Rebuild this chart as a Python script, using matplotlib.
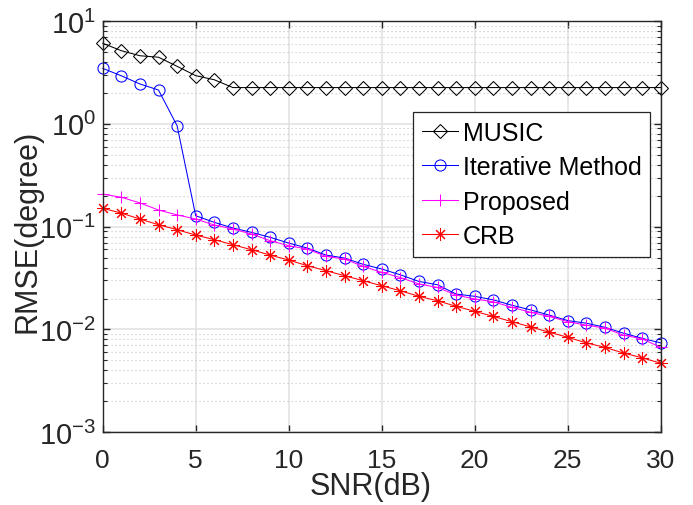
import numpy as np
import matplotlib
matplotlib.use("Agg")
import matplotlib.pyplot as plt
from matplotlib.ticker import FixedLocator, FuncFormatter, LogLocator, NullFormatter

plt.rcParams['font.family'] = ['Liberation Sans', 'DejaVu Sans']
plt.rcParams['mathtext.fontset'] = 'custom'
plt.rcParams['mathtext.rm'] = 'Liberation Sans'
plt.rcParams['mathtext.it'] = 'Liberation Sans'
plt.rcParams['mathtext.default'] = 'regular'

snr = list(range(0, 31))
music = [6.07, 5.14, 4.59, 4.44, 3.62, 2.94, 2.68, 2.25, 2.25, 2.25, 2.25,
         2.25, 2.25, 2.25, 2.25, 2.25, 2.25, 2.25, 2.25, 2.25, 2.25, 2.25,
         2.25, 2.25, 2.25, 2.25, 2.25, 2.25, 2.25, 2.25, 2.25]
iterative = [3.46, 2.93, 2.44, 2.13, 0.957, 0.1276, 0.110, 0.0969, 0.0880,
             0.0787, 0.0692, 0.0619, 0.0529, 0.0495, 0.0430, 0.0387, 0.0340,
             0.0293, 0.0272, 0.0221, 0.0210, 0.0194, 0.0172, 0.0155, 0.0138,
             0.0122, 0.0115, 0.0105, 0.0092, 0.0082, 0.0074]
proposed = [0.207, 0.193, 0.170, 0.145, 0.130, 0.1186, 0.1037, 0.0948, 0.0848,
            0.0730, 0.0652, 0.0605, 0.0514, 0.0484, 0.0411, 0.0359, 0.0320,
            0.0277, 0.0256, 0.0216, 0.0198, 0.0186, 0.0164, 0.0147, 0.0134,
            0.0119, 0.0110, 0.0103, 0.0088, 0.0081, 0.0067]
crb = [0.1507, 0.1355, 0.1185, 0.1044, 0.0933, 0.0828, 0.0746, 0.0667, 0.0596,
       0.0529, 0.0473, 0.0417, 0.0373, 0.0333, 0.0298, 0.0266, 0.0238, 0.0210,
       0.0190, 0.0168, 0.0150, 0.0134, 0.0119, 0.0106, 0.0094, 0.0084, 0.0074,
       0.0067, 0.0059, 0.0053, 0.0047]
labels = ['MUSIC', 'Iterative Method', 'Proposed', 'CRB']
xticks = [0, 5, 10, 15, 20, 25, 30]
yticks = [1e-3, 1e-2, 1e-1, 1e0, 1e1]

fig = plt.figure(figsize=(6.93, 5.06), dpi=100)
ax = fig.add_axes([0.1482, 0.1437, 0.8052, 0.8129])

lw = 0.75
mew = 0.75
ax.plot(snr, music, color='k', lw=lw, marker='D', ms=7.5, mfc='none', mew=mew,
        label=labels[0], clip_on=False)
ax.plot(snr, iterative, color='#0000ff', lw=lw, marker='o', ms=8, mfc='none', mew=mew,
        label=labels[1], clip_on=False)
ax.plot(snr, proposed, color='#ff00ff', lw=lw, marker='+', ms=9, mew=mew,
        label=labels[2], clip_on=False)
ax.plot(snr, crb, color='#ff0000', lw=lw, marker=(8, 2, 0), ms=9, mew=mew,
        label=labels[3], clip_on=False)

ax.set_yscale('log')
ax.set_xlim(0, 30)
ax.set_ylim(1e-3, 1e1)
ax.xaxis.set_major_locator(FixedLocator(xticks))
ax.yaxis.set_major_locator(FixedLocator(yticks))
ax.yaxis.set_minor_locator(LogLocator(base=10, subs=np.arange(2, 10), numticks=20))
ax.yaxis.set_minor_formatter(NullFormatter())
ax.yaxis.set_major_formatter(FuncFormatter(lambda v, p: r'$10^{%d}$' % int(round(np.log10(v)))))

ax.grid(True, which='major', color='#e0e0e0', lw=1.1, ls='-')
ax.grid(True, which='minor', axis='y', color='#c4c4c4', lw=0.8, ls=(0, (1, 2.6)))
ax.set_axisbelow(True)

for s in ax.spines.values():
    s.set_color('#262626')
    s.set_linewidth(1.0)
ax.tick_params(which='both', direction='in', top=True, right=True, colors='#262626')
ax.tick_params(which='major', length=5, width=1.0)
ax.tick_params(which='minor', length=3, width=0.8)
ax.tick_params(axis='x', labelsize=19, pad=11, labelcolor='#262626')
ax.tick_params(axis='y', labelsize=21, pad=5, labelcolor='#262626')
for t in ax.get_yticklabels():
    t.set_verticalalignment('center_baseline')

ax.set_xlabel('SNR(dB)', fontsize=22, color='#262626')
ax.xaxis.set_label_coords(0.481, -0.13)
ax.xaxis.label.set_verticalalignment('center')
ax.set_ylabel('RMSE(degree)', fontsize=22, color='#262626')
ax.yaxis.set_label_coords(-0.135, 0.49)
ax.yaxis.label.set_verticalalignment('center')
ax.yaxis.label.set_horizontalalignment('center')

leg = ax.legend(loc='upper left', bbox_to_anchor=(0.556, 0.779), borderaxespad=0,
                fontsize=18, frameon=True, fancybox=False, framealpha=1,
                edgecolor='#262626', handlelength=1.45, handletextpad=0.2,
                labelspacing=0.42, borderpad=0.35)
leg.get_frame().set_linewidth(0.9)

fig.savefig('out.png', dpi=100)
